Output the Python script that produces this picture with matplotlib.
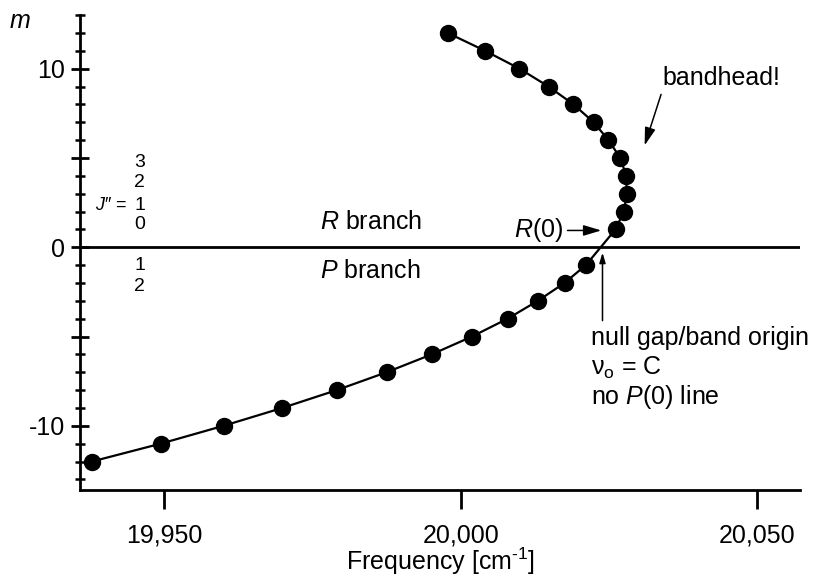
import matplotlib
matplotlib.use("Agg")
import matplotlib.pyplot as plt
from matplotlib.ticker import FixedLocator, FixedFormatter, NullLocator

plt.rcParams["font.family"] = ["Liberation Sans", "DejaVu Sans"]
plt.rcParams["mathtext.fontset"] = "custom"
plt.rcParams["mathtext.rm"] = "Liberation Sans"
plt.rcParams["mathtext.it"] = "Liberation Sans:italic"

# ── data ─────────────────────────────────────────────────────────────────────
m_values = [12, 11, 10, 9, 8, 7, 6, 5, 4, 3, 2, 1,
            -1, -2, -3, -4, -5, -6, -7, -8, -9, -10, -11, -12]
freq = [19997.8, 20004.1, 20009.9, 20014.8, 20019.0, 20022.4, 20024.9,
        20026.9, 20027.9, 20028.0, 20027.5, 20026.1,
        20021.1, 20017.5, 20013.0, 20007.9, 20001.9, 19995.1, 19987.5,
        19979.1, 19969.9, 19960.0, 19949.4, 19937.8]

x_ticks = [19950, 20000, 20050]
x_ticklabels = ["19,950", "20,000", "20,050"]
y_major = [-10, -5, 0, 5, 10]
y_major_labels = ["-10", "", "0", "", "10"]
j_upper = ["3", "2", "1", "0"]
j_lower = ["1", "2"]

FS = 18

fig = plt.figure(figsize=(8.13, 5.8), dpi=100)
ax = fig.add_axes([0.0984, 0.155, 0.8856, 0.819])

ax.plot(freq, m_values, color="black", lw=1.6, zorder=2)
ax.plot(freq, m_values, "o", color="black", markersize=11.5, zorder=3)
ax.axhline(0, color="black", lw=2, zorder=1)

ax.set_xlim(19935.8, 20057.2)
ax.set_ylim(-13.6, 13)

for s in ("top", "right"):
    ax.spines[s].set_visible(False)
for s in ("left", "bottom"):
    ax.spines[s].set_linewidth(2)

ax.xaxis.set_major_locator(FixedLocator(x_ticks))
ax.xaxis.set_major_formatter(FixedFormatter(x_ticklabels))
ax.xaxis.set_minor_locator(NullLocator())
ax.tick_params(axis="x", direction="out", length=14, width=2,
               labelsize=FS, pad=10)

ax.yaxis.set_major_locator(FixedLocator(y_major))
ax.yaxis.set_major_formatter(FixedFormatter(y_major_labels))
ax.yaxis.set_minor_locator(FixedLocator(list(range(-13, 14))))
ax.tick_params(axis="y", which="major", direction="inout", length=13,
               width=2, labelsize=FS, pad=4)
ax.tick_params(axis="y", which="minor", direction="inout", length=7.5,
               width=1.8)

ax.set_xlabel("Frequency [cm$^{\\text{-}1}$]", fontsize=FS, labelpad=-1)
fig.text(20 / 813, 1 - 21 / 580, "m", fontsize=FS, style="italic",
         ha="center", va="center")

# ── branch labels ────────────────────────────────────────────────────────────
ax.text(19976.3, 1.44, "$\\mathit{R}$ branch", fontsize=FS, ha="left", va="center")
ax.text(19976.3, -1.33, "$\\mathit{P}$ branch", fontsize=FS, ha="left", va="center")

# J'' labels
for lbl, yy in zip(j_upper, [4.75, 3.63, 2.34, 1.27]):
    ax.text(19945.9, yy, lbl, fontsize=14, ha="center", va="center")
for lbl, yy in zip(j_lower, [-1.05, -2.18]):
    ax.text(19945.9, yy, lbl, fontsize=14, ha="center", va="center")
ax.text(19943.8, 2.34, "$\\mathit{J\u2033}$ =", fontsize=13,
        ha="right", va="center")

arrow = dict(arrowstyle="-|>,head_length=0.6,head_width=0.18",
             color="black", lw=1.1, shrinkA=1, shrinkB=0)

ax.annotate("$\\mathit{R}$(0)", xy=(20023.7, 0.94), xytext=(20017.3, 0.94),
            fontsize=FS, ha="right", va="center", arrowprops=arrow)

ax.annotate("bandhead!", xy=(20031.0, 5.7), xytext=(20034.0, 9.46),
            fontsize=FS, ha="left", va="center",
            arrowprops=dict(arrow, relpos=(0.0, 0.0)))

ax.annotate("", xy=(20023.9, -0.3), xytext=(20023.9, -4.11),
            arrowprops=dict(arrow, shrinkA=0))

ax.text(20022.0, -5.08, "null gap/band origin", fontsize=FS,
        ha="left", va="center")
ax.text(20022.0, -6.73, "\u03bd$_\\mathregular{o}$ = C", fontsize=FS,
        ha="left", va="center")
ax.text(20022.0, -8.41, "no $\\mathit{P}$(0) line", fontsize=FS,
        ha="left", va="center")

fig.savefig("out.png", dpi=100)
